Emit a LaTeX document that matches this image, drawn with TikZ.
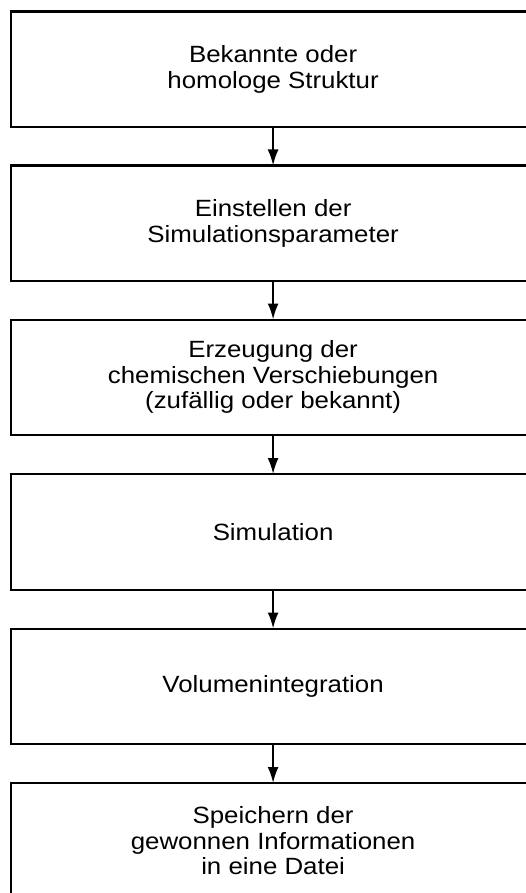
\documentclass[tikz,border=0pt]{standalone}
\usepackage{fontspec}
\setmainfont[FakeStretch=1.1]{Liberation Sans}
\usetikzlibrary{arrows.meta}
\tikzset{
  stepbox/.style={draw=black, line width=2.2pt, fill=white, anchor=north west,
    minimum width=524pt, minimum height=115.5pt, inner sep=0pt,
    align=center, font=\fontsize{23.5}{25.5}\selectfont},
  flow/.style={line width=2pt, -{Latex[length=16pt,width=11pt]}, shorten >=-1pt}
}
\begin{document}
\begin{tikzpicture}[x=1pt, y=-1pt]
  \useasboundingbox (0,0) rectangle (526,893);
  \clip (0,0) rectangle (526,893);
  \fill[white] (0,0) rectangle (526,893);
  % process steps, top to bottom
  \node[stepbox] (b1) at (10,10.5) {Bekannte oder\\homologe Struktur};
  \node[stepbox] (b2) at (10,164.5) {Einstellen der\\Simulationsparameter};
  \node[stepbox] (b3) at (10,318.5) {Erzeugung der\\chemischen Verschiebungen\\(zufällig oder bekannt)};
  \node[stepbox] (b4) at (10,473) {Simulation};
  \node[stepbox] (b5) at (10,627.5) {Volumenintegration};
  \node[stepbox] (b6) at (10,782) {Speichern der\\gewonnen Informationen\\in eine Datei};
  % connectors
  \draw[flow] (b1.south) -- (b2.north);
  \draw[flow] (b2.south) -- (b3.north);
  \draw[flow] (b3.south) -- (b4.north);
  \draw[flow] (b4.south) -- (b5.north);
  \draw[flow] (b5.south) -- (b6.north);
\end{tikzpicture}
\end{document}
